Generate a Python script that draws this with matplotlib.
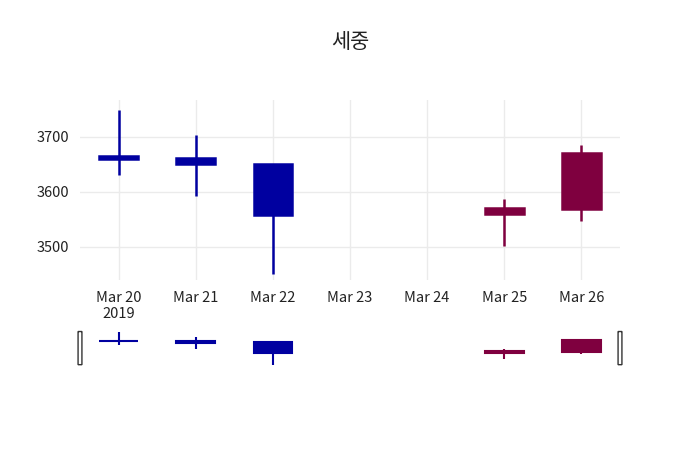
import matplotlib
matplotlib.use("Agg")
import matplotlib.pyplot as plt
from matplotlib.patches import Rectangle, FancyBboxPatch

plt.rcParams['font.family'] = ['Noto Sans CJK KR', 'DejaVu Sans']

dates = ["Mar 20", "Mar 21", "Mar 22", "Mar 25", "Mar 26"]
day_idx = [0, 1, 2, 5, 6]
opens = [3666, 3661, 3651, 3560, 3569]
highs = [3749, 3704, 3651, 3588, 3685]
lows = [3631, 3592, 3451, 3502, 3547]
closes = [3660, 3650, 3558, 3570, 3671]
tick_labels = ["Mar 20\n2019", "Mar 21", "Mar 22", "Mar 23", "Mar 24", "Mar 25", "Mar 26"]

INC = "#7f003f"
DEC = "#0000a0"

fig = plt.figure(figsize=(7, 4.5), dpi=100)
W, H = 700, 450
ax = fig.add_axes([80/W, 1-280/H, 540/W, 180/H])
sl = fig.add_axes([80/W, 1-368/H, 540/W, 42/H])

def draw(a, lw, bw=0.5):
    for x, o, h, l, c in zip(day_idx, opens, highs, lows, closes):
        col = INC if c >= o else DEC
        a.plot([x, x], [l, h], color=col, lw=lw, zorder=2, solid_capstyle='butt')
        a.add_patch(Rectangle((x-bw/2, min(o, c)), bw, abs(c-o), facecolor=col,
                              edgecolor=col, lw=lw, zorder=3))

draw(ax, 1.8)
ax.set_xlim(-0.5, 6.5)
ax.set_ylim(3440, 3767)
ax.set_yticks([3500, 3600, 3700])
ax.set_xticks(range(7))
ax.set_xticklabels(tick_labels)
ax.grid(True, color="#ebebeb", lw=1)
ax.set_axisbelow(True)
for s in ax.spines.values():
    s.set_visible(False)
ax.tick_params(length=0, labelsize=10.5, colors="#2a3f5f", pad=8)
for lab in ax.get_xticklabels() + ax.get_yticklabels():
    lab.set_color("#222222")

draw(sl, 1.5)
sl.set_xlim(-0.5, 6.5)
sl.set_ylim(3420, 3800)
sl.axis('off')
for xx in [-0.5, 6.5]:
    sl.add_patch(FancyBboxPatch((xx-0.02, 3450), 0.04, 300, boxstyle="round,pad=0.005",
                                facecolor="white", edgecolor="#333333", lw=1,
                                clip_on=False, zorder=5))

fig.text(0.5, 1-42/H, "세중", ha='center', va='center', fontsize=15, color="#222222")
fig.savefig("out.png", dpi=100)
